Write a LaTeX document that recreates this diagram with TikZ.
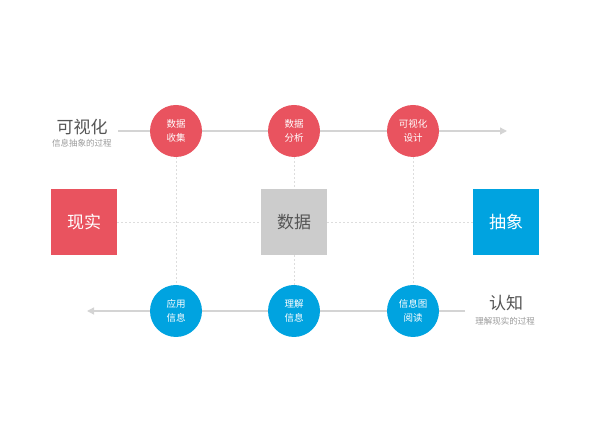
\documentclass[tikz,border=0pt]{standalone}
\usepackage{fontspec}
\setmainfont{Noto Sans CJK SC}
\usetikzlibrary{arrows.meta}
\definecolor{cred}{HTML}{E9535F}
\definecolor{cblue}{HTML}{00A3E0}
\definecolor{cgray}{HTML}{CCCCCC}
\definecolor{lgray}{HTML}{D4D4D4}
\definecolor{dgray}{HTML}{DDDDDD}
\definecolor{tgray}{HTML}{555555}
\definecolor{sgray}{HTML}{9A9A9A}
\tikzset{
  circ/.style={circle,minimum size=52pt,inner sep=0pt,text=white,font=\fontsize{9.5}{14}\selectfont,align=center},
  redc/.style={circ,fill=cred},
  bluec/.style={circ,fill=cblue},
  sq/.style={minimum size=66pt,inner sep=0pt,font=\fontsize{17}{20}\selectfont},
  mainline/.style={draw=lgray,line width=1.3pt},
  dotline/.style={draw=dgray,line width=0.8pt,dash pattern=on 1.5pt off 2.5pt},
  tip/.style={-{Triangle[length=7pt,width=7pt]}},
}
\begin{document}
\begin{tikzpicture}[x=1pt,y=-1pt]
\useasboundingbox (0,0) rectangle (590,443);
% squares
\node[sq,fill=cred,text=white] (real) at (84,222) {现实};
\node[sq,fill=cgray,text=tgray] (data) at (294,222) {数据};
\node[sq,fill=cblue,text=white] (abs) at (506,222) {抽象};
% top circles
\node[redc] (t1) at (176,131) {数据\\收集};
\node[redc] (t2) at (294,131) {数据\\分析};
\node[redc] (t3) at (413,131) {可视化\\设计};
% bottom circles
\node[bluec] (b1) at (176,311) {应用\\信息};
\node[bluec] (b2) at (294,311) {理解\\信息};
\node[bluec] (b3) at (413,311) {信息图\\阅读};
% ends
\coordinate (tstart) at (118,131);
\coordinate (tend) at (507,131);
\coordinate (bstart) at (465,311);
\coordinate (bend) at (87,311);
% dotted grid
\draw[dotline] (real.east) -- (data.west);
\draw[dotline] (data.east) -- (abs.west);
\draw[dotline] (t1.south) -- (b1.north);
\draw[dotline] (t2.south) -- (data.north);
\draw[dotline] (data.south) -- (b2.north);
\draw[dotline] (t3.south) -- (b3.north);
% main lines
\draw[mainline] (tstart) -- (t1.west);
\draw[mainline] (t1.east) -- (t2.west);
\draw[mainline] (t2.east) -- (t3.west);
\draw[mainline,tip] (t3.east) -- (tend);
\draw[mainline] (bstart) -- (b3.east);
\draw[mainline] (b3.west) -- (b2.east);
\draw[mainline] (b2.west) -- (b1.east);
\draw[mainline,tip] (b1.west) -- (bend);
% labels
\node[text=tgray,font=\fontsize{17}{20}\selectfont] (vis) at (82,127) {可视化};
\node[text=sgray,font=\fontsize{8.5}{10}\selectfont] (vissub) at (82,143) {信息抽象的过程};
\node[text=tgray,font=\fontsize{17}{20}\selectfont] (cog) at (506,303) {认知};
\node[text=sgray,font=\fontsize{8.5}{10}\selectfont] (cogsub) at (505,321) {理解现实的过程};
\end{tikzpicture}
\end{document}
